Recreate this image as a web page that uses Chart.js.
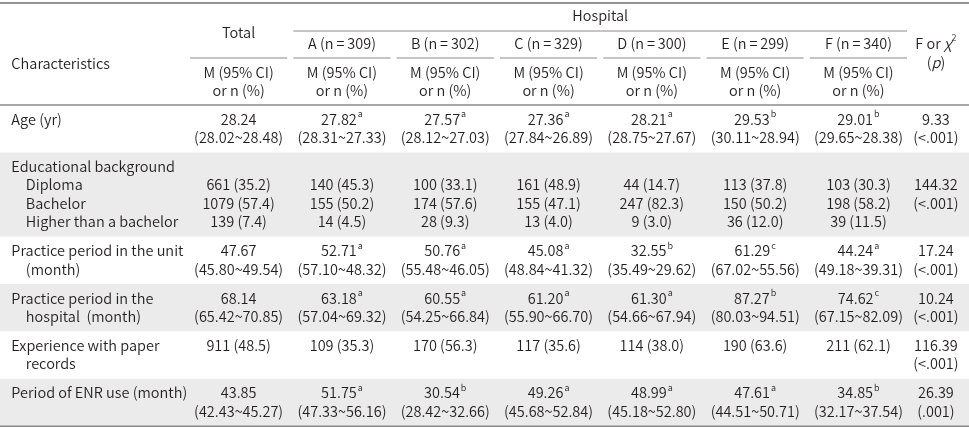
<!DOCTYPE html>
<html>
<head>
<meta charset="utf-8">
<script src="https://cdn.jsdelivr.net/npm/chart.js@4"></script>
<style>
  html, body { margin: 0; padding: 0; background: #fff; }
  #wrap { width: 969px; height: 428px; }
</style>
</head>
<body>
<div id="wrap"><canvas id="myChart" width="969" height="428"></canvas></div>
<script>
// columns of the table
const columns = ['Total', 'A', 'B', 'C', 'D', 'E', 'F'];
const sampleSizes = [null, 309, 302, 329, 300, 299, 340];

// Age (yr)
const ageMean = [28.24, 27.82, 27.57, 27.36, 28.21, 29.53, 29.01];
const ageCI = ['28.02~28.48', '28.31~27.33', '28.12~27.03', '27.84~26.89', '28.75~27.67', '30.11~28.94', '29.65~28.38'];
const ageGroup = ['', 'a', 'a', 'a', 'a', 'b', 'b'];
const ageStat = ['9.33', '(<.001)'];

// Educational background, n and %
const diplomaN = [661, 140, 100, 161, 44, 113, 103];
const diplomaPct = [35.2, 45.3, 33.1, 48.9, 14.7, 37.8, 30.3];
const bachelorN = [1079, 155, 174, 155, 247, 150, 198];
const bachelorPct = [57.4, 50.2, 57.6, 47.1, 82.3, 50.2, 58.2];
const higherN = [139, 14, 28, 13, 9, 36, 39];
const higherPct = [7.4, 4.5, 9.3, 4.0, 3.0, 12.0, 11.5];
const eduStat = ['144.32', '(<.001)'];

// Practice period in the unit (month)
const unitMean = [47.67, 52.71, 50.76, 45.08, 32.55, 61.29, 44.24];
const unitCI = ['45.80~49.54', '57.10~48.32', '55.48~46.05', '48.84~41.32', '35.49~29.62', '67.02~55.56', '49.18~39.31'];
const unitGroup = ['', 'a', 'a', 'a', 'b', 'c', 'a'];
const unitStat = ['17.24', '(<.001)'];

// Practice period in the hospital (month)
const hospMean = [68.14, 63.18, 60.55, 61.20, 61.30, 87.27, 74.62];
const hospCI = ['65.42~70.85', '57.04~69.32', '54.25~66.84', '55.90~66.70', '54.66~67.94', '80.03~94.51', '67.15~82.09'];
const hospGroup = ['', 'a', 'a', 'a', 'a', 'b', 'c'];
const hospStat = ['10.24', '(<.001)'];

// Experience with paper records, n and %
const paperN = [911, 109, 170, 117, 114, 190, 211];
const paperPct = [48.5, 35.3, 56.3, 35.6, 38.0, 63.6, 62.1];
const paperStat = ['116.39', '(<.001)'];

// Period of ENR use (month)
const enrMean = [43.85, 51.75, 30.54, 49.26, 48.99, 47.61, 34.85];
const enrCI = ['42.43~45.27', '47.33~56.16', '28.42~32.66', '45.68~52.84', '45.18~52.80', '44.51~50.71', '32.17~37.54'];
const enrGroup = ['', 'a', 'b', 'a', 'a', 'a', 'b'];
const enrStat = ['26.39', '(.001)'];

// layout (x in column units, y in the table's own vertical units)
const STAT_X = 6.75;
const LABEL_X = -2.2;
const INDENT_X = -2.06;
const HALF = 0.47;
const LINE = 18.4;
const PAD = 10.6;
const HEAD_BOTTOM = 105;

const FONT = '"Noto Sans CJK KR", "Noto Sans", sans-serif';
const WEIGHT = '350';
const SIZE = 14.5;
const TEXT = '#231f20';

const fmtNP = (n, p) => n + ' (' + p.toFixed(1) + ')';

const bodyRows = [
    { label: [['Age (yr)', 0]], lines: 2,
      cells: c => [[ageMean[c].toFixed(2), ageGroup[c]], ['(' + ageCI[c] + ')']],
      stat: [ageStat[0], ageStat[1]] },
    { label: [['Educational background', 0], ['Diploma', 1], ['Bachelor', 1], ['Higher than a bachelor', 1]], lines: 4,
      cells: c => [null, [fmtNP(diplomaN[c], diplomaPct[c])], [fmtNP(bachelorN[c], bachelorPct[c])], [fmtNP(higherN[c], higherPct[c])]],
      stat: [null, eduStat[0], eduStat[1], null] },
    { label: [['Practice period in the unit', 0], ['(month)', 1]], lines: 2,
      cells: c => [[unitMean[c].toFixed(2), unitGroup[c]], ['(' + unitCI[c] + ')']],
      stat: [unitStat[0], unitStat[1]] },
    { label: [['Practice period in the', 0], ['hospital  (month)', 1]], lines: 2,
      cells: c => [[hospMean[c].toFixed(2), hospGroup[c]], ['(' + hospCI[c] + ')']],
      stat: [hospStat[0], hospStat[1]] },
    { label: [['Experience with paper', 0], ['records', 1]], lines: 2,
      cells: c => [[fmtNP(paperN[c], paperPct[c])], null],
      stat: [paperStat[0], paperStat[1]] },
    { label: [['Period of ENR use (month)', 0]], lines: 2,
      cells: c => [[enrMean[c].toFixed(2), enrGroup[c]], ['(' + enrCI[c] + ')']],
      stat: [enrStat[0], enrStat[1]] }
];

// row tops computed from line counts
const rowTops = [];
let acc = HEAD_BOTTOM;
bodyRows.forEach(r => { rowTops.push(acc); acc += r.lines * LINE + PAD; });
const TABLE_BOTTOM = acc;

const tablePlugin = {
    id: 'tableDraw',
    beforeDatasetsDraw(chart) {
        const ctx = chart.ctx;
        const xs = chart.scales.x, ys = chart.scales.y;
        const X = v => xs.getPixelForValue(v);
        const Y = v => ys.getPixelForValue(v);
        const left = chart.chartArea.left, right = chart.chartArea.right;

        ctx.save();
        // shaded rows
        bodyRows.forEach((r, i) => {
            if (i % 2 === 1) {
                ctx.fillStyle = '#ebebeb';
                ctx.fillRect(left, Y(rowTops[i]), right - left, Y(rowTops[i] + r.lines * LINE + PAD) - Y(rowTops[i]));
            }
        });

        function hline(x1, x2, y, color, w) {
            ctx.strokeStyle = color;
            ctx.lineWidth = w;
            ctx.beginPath();
            ctx.moveTo(x1, y);
            ctx.lineTo(x2, y);
            ctx.stroke();
        }

        function setFont(size, style) {
            ctx.font = (style || '') + ' ' + WEIGHT + ' ' + (size || SIZE) + 'px ' + FONT;
        }

        function text(str, x, y, align, size, style) {
            setFont(size, style);
            ctx.fillStyle = TEXT;
            ctx.textAlign = align || 'center';
            ctx.textBaseline = 'middle';
            ctx.fillText(str, x, y);
        }

        function width(str, size, style) {
            setFont(size, style);
            return ctx.measureText(str).width;
        }

        // number with a small superscript letter, centred as one piece
        function supText(main, sup, cx, y) {
            const w = width(main);
            const ws = sup ? width(sup, 9) + 1 : 0;
            const start = cx - (w + ws) / 2;
            text(main, start, y, 'left');
            if (sup) text(sup, start + w + 1, y - 5, 'left', 9);
        }

        // rules
        hline(left, right, Y(3), '#6f6f6f', 1.5);
        hline(X(1 - HALF), X(6 + HALF), Y(31), '#8a8a8a', 1);
        columns.forEach((c, i) => hline(X(i - HALF), X(i + HALF), Y(58), '#8a8a8a', 1));
        hline(left, right, Y(HEAD_BOTTOM), '#8a8a8a', 1.5);
        hline(left, right, Y(TABLE_BOTTOM), '#8a8a8a', 1.5);

        // header
        text('Characteristics', X(LABEL_X), Y(63), 'left');
        text('Total', X(0), Y(32));
        text('Hospital', X(3.5), Y(15));
        columns.forEach((c, i) => {
            if (sampleSizes[i] !== null) text(c + ' (n\u2009=\u2009' + sampleSizes[i] + ')', X(i), Y(43));
            text('M (95% CI)', X(i), Y(72));
            text('or n (%)', X(i), Y(90));
        });
        // F or chi-square
        const a = width('F or ');
        const b = width('\u03c7', SIZE, 'italic');
        const sx = X(STAT_X) - (a + b + 5) / 2;
        text('F or ', sx, Y(43), 'left');
        text('\u03c7', sx + a, Y(43), 'left', SIZE, 'italic');
        text('2', sx + a + b, Y(38), 'left', 9);
        const pa = width('('), pb = width('p', SIZE, 'italic'), pc = width(')');
        const px = X(STAT_X) - (pa + pb + pc) / 2;
        text('(', px, Y(62), 'left');
        text('p', px + pa, Y(62), 'left', SIZE, 'italic');
        text(')', px + pa + pb, Y(62), 'left');

        // body
        bodyRows.forEach((r, i) => {
            const lineY = k => Y(rowTops[i] + PAD / 2 + LINE / 2 + k * LINE - 0.5);
            r.label.forEach((l, k) => text(l[0], X(l[1] ? INDENT_X : LABEL_X), lineY(k), 'left'));
            columns.forEach((c, ci) => {
                r.cells(ci).forEach((cell, k) => {
                    if (!cell) return;
                    supText(cell[0], cell[1], X(ci), lineY(k));
                });
            });
            r.stat.forEach((s, k) => { if (s) text(s, X(STAT_X), lineY(k)); });
        });
        ctx.restore();
    }
};

new Chart(document.getElementById('myChart').getContext('2d'), {
    type: 'scatter',
    data: { datasets: [] },
    options: {
        responsive: false,
        animation: false,
        events: [],
        layout: { padding: 0 },
        plugins: { legend: { display: false }, tooltip: { enabled: false } },
        scales: {
            x: { type: 'linear', display: false, min: -2.31, max: 7.07 },
            y: { type: 'linear', display: false, min: 0, max: 428, reverse: true }
        }
    },
    plugins: [tablePlugin]
});
</script>
</body>
</html>
